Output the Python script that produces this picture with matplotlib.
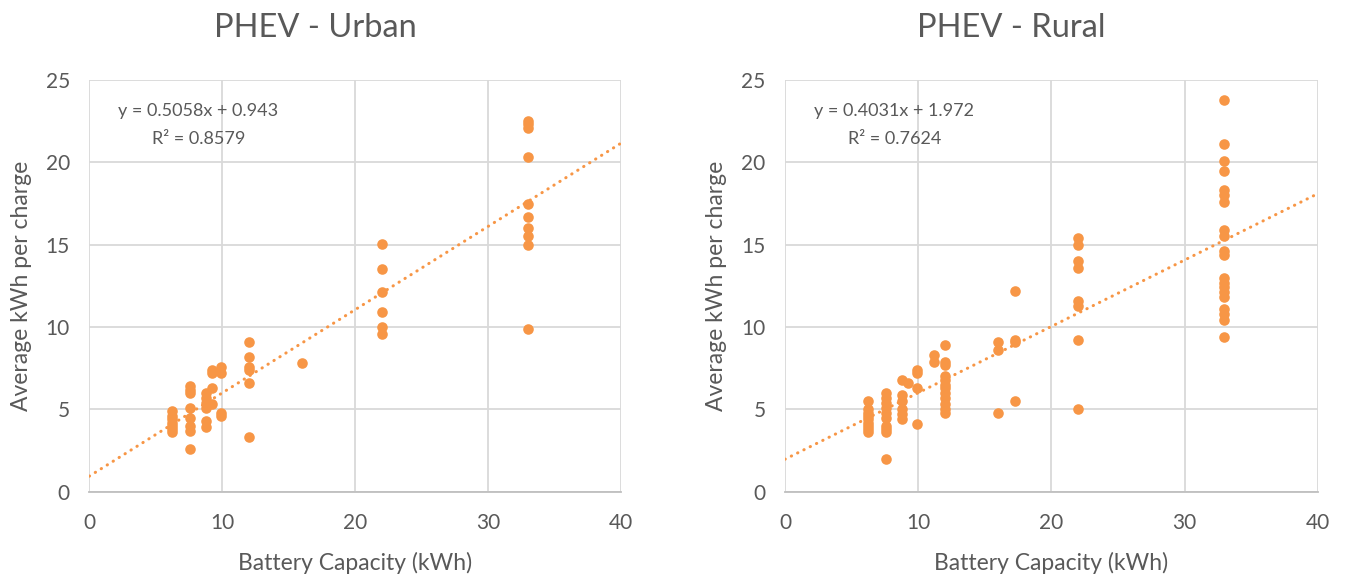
from matplotlib import pyplot as plt
import numpy as np

## Data ------------------------------------------------------------------
urban_x = (
    [6.2] * 7
    + [7.6] * 8
    + [8.8] * 6
    + [9.2] * 4
    + [9.9] * 4
    + [12.0] * 6
    + [16.0]
    + [22.0] * 6
    + [33.0] * 10
)
urban_y = [
    4.9, 4.6, 4.4, 4.2, 4.0, 3.8, 3.6,
    6.4, 6.2, 6.0, 5.1, 4.5, 4.0, 3.7, 2.6,
    6.0, 5.7, 5.4, 5.1, 4.3, 3.9,
    7.4, 7.2, 6.3, 5.3,
    7.6, 7.2, 4.8, 4.6,
    9.1, 8.2, 7.6, 7.4, 6.6, 3.3,
    7.8,
    15.05, 13.5, 12.15, 10.9, 10.0, 9.6,
    22.5, 22.3, 22.1, 20.3, 17.5, 16.7, 16.0, 15.5, 15.0, 9.85,
]

rural_x = (
    [6.2] * 9
    + [7.6] * 10
    + [8.8] * 6
    + [9.2]
    + [9.9] * 4
    + [11.2] * 2
    + [12.0] * 12
    + [16.0] * 3
    + [17.3] * 4
    + [22.0] * 8
    + [33.0] * 20
)
rural_y = [
    5.5, 5.0, 4.8, 4.6, 4.4, 4.2, 4.0, 3.8, 3.6,
    6.0, 5.7, 5.4, 5.1, 4.8, 4.5, 4.0, 3.8, 3.6, 2.0,
    6.8, 5.9, 5.5, 5.0, 4.7, 4.4,
    6.6,
    7.4, 7.2, 6.3, 4.1,
    8.3, 7.9,
    8.9, 7.9, 7.7, 7.0, 6.8, 6.5, 6.3, 6.0, 5.7, 5.3, 5.0, 4.8,
    9.1, 8.6, 4.8,
    12.2, 9.2, 9.1, 5.5,
    15.4, 15.0, 14.0, 13.6, 11.6, 11.3, 9.2, 5.0,
    23.8, 21.1, 20.1, 19.5, 18.3, 18.0, 17.6, 15.9, 15.5, 14.6,
    14.4, 13.0, 12.7, 12.4, 12.1, 11.8, 11.1, 10.8, 10.4, 9.4,
]

titles = ["PHEV - Urban", "PHEV - Rural"]
slopes = [0.5058, 0.4031]
intercepts = [0.943, 1.972]
r2 = [0.8579, 0.7624]

## Style -----------------------------------------------------------------
orange = "#F79646"
txt = "#595959"
plt.rc("font", family=["Lato", "DejaVu Sans"])

fig = plt.figure(figsize=(13.46, 5.78), dpi=100)
ax1 = fig.add_axes([89.3 / 1346, 86.3 / 578, 532 / 1346, 411.7 / 578])
ax2 = fig.add_axes([785 / 1346, 86.3 / 578, 532.7 / 1346, 411.7 / 578])

for ax, xs, ys, title, m, b, r in zip(
    [ax1, ax2], [urban_x, rural_x], [urban_y, rural_y], titles, slopes, intercepts, r2
):
    ax.set_xlim(0, 40)
    ax.set_ylim(0, 25)
    ax.set_xticks([0, 10, 20, 30, 40])
    ax.set_yticks([0, 5, 10, 15, 20, 25])
    ax.grid(True, color="#D9D9D9", linewidth=1.3)
    ax.set_axisbelow(True)
    for s in ["top", "right", "left"]:
        ax.spines[s].set_visible(False)
    ax.spines["bottom"].set_color("#BFBFBF")
    ax.spines["bottom"].set_linewidth(1.3)
    ax.tick_params(length=0, labelsize=15, labelcolor=txt)
    ax.tick_params(axis="y", pad=14)
    ax.tick_params(axis="x", pad=15)

    ax.scatter(xs, ys, s=58, color=orange, linewidths=0, zorder=3)

    tx = np.array([0, 40])
    ax.plot(
        tx, m * tx + b, color=orange, linewidth=2.2,
        linestyle=(0, (0.1, 2.2)), dash_capstyle="round", zorder=2,
    )

    ax.text(8.2, 23.1, "y = {}x + {}".format(m, b), ha="center", va="center",
            fontsize=13, color=txt)
    ax.text(8.2, 21.4, "R² = {}".format(r), ha="center", va="center",
            fontsize=13, color=txt)

    # Excel centres the title over the whole chart area, not the plot area
    ax.set_title(title, fontsize=23.5, color=txt, pad=31, x=0.425)
    ax.set_xlabel("Battery Capacity (kWh)", fontsize=16.5, color=txt, labelpad=14)
    ax.set_ylabel("Average kWh per charge", fontsize=16.5, color=txt, labelpad=10)

fig.savefig("out.png", dpi=100)
